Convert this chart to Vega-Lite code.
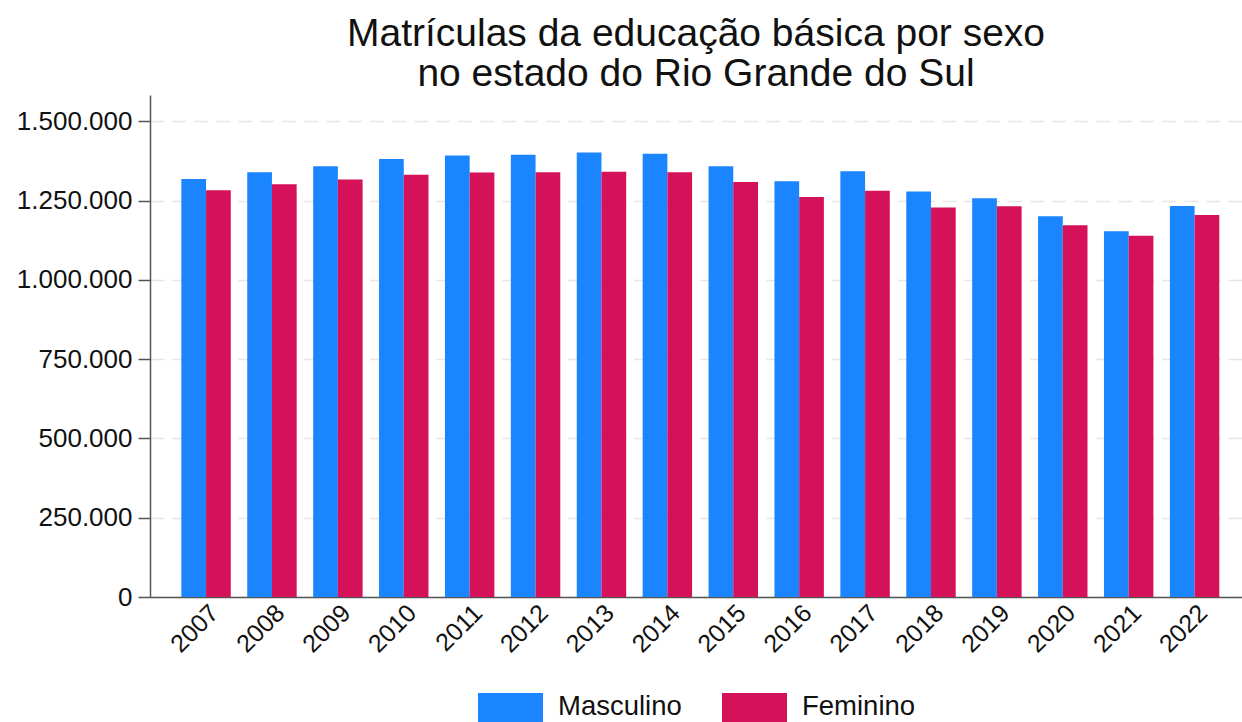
{
  "$schema": "https://vega.github.io/schema/vega-lite/v6.json",
  "width": 1092,
  "height": 502,
  "autosize": {"type": "none"},
  "padding": {"left": 150, "top": 95, "right": 0, "bottom": 125},
  "background": "white",
  "title": {
    "text": ["Matrículas da educação básica por sexo", "no estado do Rio Grande do Sul"],
    "font": "Liberation Sans",
    "fontSize": 39,
    "fontWeight": "normal",
    "color": "#111111",
    "lineHeight": 40,
    "anchor": "middle",
    "offset": 1
  },
  "data": {
    "values": [
      {"ano": "2007", "sexo": "Masculino", "matriculas": 1318000},
      {"ano": "2007", "sexo": "Feminino", "matriculas": 1282000},
      {"ano": "2008", "sexo": "Masculino", "matriculas": 1339000},
      {"ano": "2008", "sexo": "Feminino", "matriculas": 1301000},
      {"ano": "2009", "sexo": "Masculino", "matriculas": 1358000},
      {"ano": "2009", "sexo": "Feminino", "matriculas": 1316000},
      {"ano": "2010", "sexo": "Masculino", "matriculas": 1381000},
      {"ano": "2010", "sexo": "Feminino", "matriculas": 1331000},
      {"ano": "2011", "sexo": "Masculino", "matriculas": 1392000},
      {"ano": "2011", "sexo": "Feminino", "matriculas": 1338000},
      {"ano": "2012", "sexo": "Masculino", "matriculas": 1394000},
      {"ano": "2012", "sexo": "Feminino", "matriculas": 1339000},
      {"ano": "2013", "sexo": "Masculino", "matriculas": 1401000},
      {"ano": "2013", "sexo": "Feminino", "matriculas": 1341000},
      {"ano": "2014", "sexo": "Masculino", "matriculas": 1397000},
      {"ano": "2014", "sexo": "Feminino", "matriculas": 1339000},
      {"ano": "2015", "sexo": "Masculino", "matriculas": 1358000},
      {"ano": "2015", "sexo": "Feminino", "matriculas": 1308000},
      {"ano": "2016", "sexo": "Masculino", "matriculas": 1311000},
      {"ano": "2016", "sexo": "Feminino", "matriculas": 1261000},
      {"ano": "2017", "sexo": "Masculino", "matriculas": 1342000},
      {"ano": "2017", "sexo": "Feminino", "matriculas": 1281000},
      {"ano": "2018", "sexo": "Masculino", "matriculas": 1278000},
      {"ano": "2018", "sexo": "Feminino", "matriculas": 1228000},
      {"ano": "2019", "sexo": "Masculino", "matriculas": 1257000},
      {"ano": "2019", "sexo": "Feminino", "matriculas": 1232000},
      {"ano": "2020", "sexo": "Masculino", "matriculas": 1200000},
      {"ano": "2020", "sexo": "Feminino", "matriculas": 1172000},
      {"ano": "2021", "sexo": "Masculino", "matriculas": 1153000},
      {"ano": "2021", "sexo": "Feminino", "matriculas": 1139000},
      {"ano": "2022", "sexo": "Masculino", "matriculas": 1233000},
      {"ano": "2022", "sexo": "Feminino", "matriculas": 1204000}
    ]
  },
  "mark": {"type": "bar", "strokeWidth": 0},
  "encoding": {
    "x": {
      "field": "ano",
      "type": "nominal",
      "title": null,
      "scale": {"paddingInner": 0.25, "paddingOuter": 0.41, "align": 0.58},
      "axis": {
        "labelAngle": -45,
        "labelAlign": "right",
        "labelBaseline": "top",
        "labelFont": "Liberation Sans",
        "labelFontSize": 25,
        "labelColor": "#111111",
        "labelPadding": 3,
        "ticks": false,
        "domainColor": "#555555",
        "domainWidth": 1.5,
        "grid": false
      }
    },
    "xOffset": {
      "field": "sexo",
      "type": "nominal",
      "sort": ["Masculino", "Feminino"],
      "scale": {"domain": ["Masculino", "Feminino"], "paddingInner": 0, "paddingOuter": 0}
    },
    "y": {
      "field": "matriculas",
      "type": "quantitative",
      "title": null,
      "scale": {"domain": [0, 1582600], "nice": false, "zero": true},
      "axis": {
        "values": [0, 250000, 500000, 750000, 1000000, 1250000, 1500000],
        "format": ",d",
        "labelFont": "Liberation Sans",
        "labelFontSize": 26,
        "labelColor": "#111111",
        "labelPadding": 6,
        "tickSize": 12,
        "tickColor": "#555555",
        "tickWidth": 1.5,
        "domainColor": "#555555",
        "domainWidth": 1.5,
        "grid": true,
        "gridColor": "#e6e6e6",
        "gridWidth": 1.5,
        "gridDash": [14, 8]
      }
    },
    "color": {
      "field": "sexo",
      "type": "nominal",
      "scale": {"domain": ["Masculino", "Feminino"], "range": ["#1a85ff", "#d41159"]},
      "legend": {
        "title": null,
        "orient": "none",
        "direction": "horizontal",
        "legendX": 328,
        "legendY": 579,
        "symbolType": "M-1,-0.42L1,-0.42L1,0.8L-1,0.8Z",
        "symbolSize": 4225,
        "symbolStrokeWidth": 0,
        "symbolOpacity": 1,
        "labelFont": "Liberation Sans",
        "labelFontSize": 27.5,
        "labelColor": "#111111",
        "labelOffset": 15,
        "columnPadding": 40
      }
    }
  },
  "config": {
    "view": {"stroke": null},
    "locale": {
      "number": {"decimal": ",", "thousands": ".", "grouping": [3], "currency": ["R$", ""]}
    }
  }
}
